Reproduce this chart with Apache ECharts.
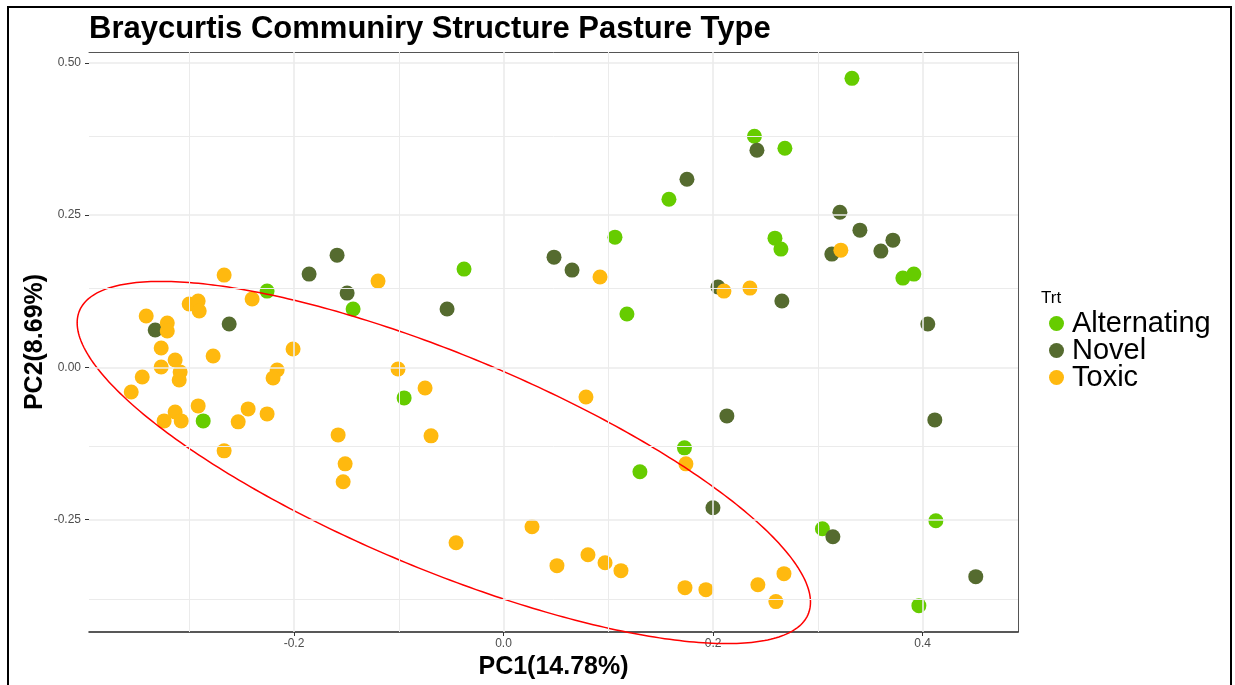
<!DOCTYPE html>
<html><head><meta charset="utf-8">
<script src="https://cdn.jsdelivr.net/npm/echarts@6/dist/echarts.min.js"></script>
<style>html,body{margin:0;padding:0;background:#fff}#chart{width:1235px;height:685px}</style>
</head><body><div id="chart"></div>
<script>
const seriesNames = ['Alternating', 'Novel', 'Toxic'];
const seriesColors = ['#66CC00', '#556B2F', '#FFB90F'];

const alternating = [
  [0.3326, 0.4746], [0.2395, 0.3795], [0.2686, 0.3598], [0.1579, 0.2762], [0.1064, 0.2139],
  [0.2591, 0.2123], [0.2648, 0.1943], [-0.0377, 0.1615], [-0.2257, 0.1254], [-0.1436, 0.0959],
  [0.1178, 0.0877], [0.3812, 0.1467], [0.3917, 0.1533], [-0.0949, -0.0500], [-0.2867, -0.0877],
  [0.1727, -0.1320], [0.1302, -0.1713], [0.3044, -0.2648], [0.4127, -0.2516], [0.3965, -0.3910]
];
const novel = [
  [0.2419, 0.3566], [0.1751, 0.3090], [0.3211, 0.2549], [0.3402, 0.2254], [0.3717, 0.2090],
  [0.3602, 0.1910], [0.3134, 0.1861], [-0.1589, 0.1844], [-0.1856, 0.1533], [-0.1493, 0.1221],
  [0.0482, 0.1811], [0.0654, 0.1598], [0.2047, 0.1320], [0.2657, 0.1090], [-0.0539, 0.0959],
  [-0.2619, 0.0713], [-0.3325, 0.0615], [0.4050, 0.0713], [0.2132, -0.0795], [0.4117, -0.0861],
  [0.1999, -0.2303], [0.3144, -0.2779], [0.4508, -0.3434]
];
const toxic = [
  [-0.2667, 0.1516], [-0.1198, 0.1418], [-0.2400, 0.1123], [-0.3001, 0.1041], [-0.2915, 0.1090],
  [-0.2905, 0.0926], [-0.3411, 0.0844], [-0.3210, 0.0730], [-0.3210, 0.0598], [-0.3268, 0.0320],
  [-0.2009, 0.0303], [-0.2772, 0.0189], [-0.3135, 0.0123], [-0.3268, 0.0008], [-0.3087, -0.0074],
  [-0.3096, -0.0205], [-0.3449, -0.0156], [-0.3554, -0.0402], [-0.2161, -0.0041], [-0.2200, -0.0172],
  [-0.1007, -0.0025], [-0.0749, -0.0336], [-0.2915, -0.0631], [-0.3135, -0.0730], [-0.3077, -0.0877],
  [-0.3240, -0.0877], [-0.2438, -0.0680], [-0.2533, -0.0893], [-0.2257, -0.0762], [-0.1579, -0.1107],
  [-0.0692, -0.1123], [-0.2667, -0.1369], [-0.1512, -0.1582], [-0.1531, -0.1877], [0.0787, -0.0484],
  [0.1741, -0.1582], [0.0921, 0.1484], [0.2104, 0.1254], [0.2352, 0.1303], [0.3220, 0.1926],
  [0.0272, -0.2615], [-0.0453, -0.2877], [0.0510, -0.3254], [0.0806, -0.3074], [0.0969, -0.3205],
  [0.1121, -0.3336], [0.1732, -0.3615], [0.1932, -0.3648], [0.2428, -0.3566], [0.2677, -0.3385],
  [0.2600, -0.3844]
];

const xTicks = [-0.2, 0.0, 0.2, 0.4];
const xMinorTicks = [-0.3, -0.1, 0.1, 0.3];
const yTicks = [-0.25, 0.0, 0.25, 0.5];
const yMinorTicks = [-0.375, -0.125, 0.125, 0.375];

// ellipse (stat_ellipse style) parameters in data units
const ellipseCenter = [-0.057, -0.156];
const ellipseSemiAxes = [0.433, 0.153];
const ellipseAngleDeg = -39.0;

const titleText = 'Braycurtis Communiry Structure Pasture Type';
const xTitle = 'PC1(14.78%)';
const yTitle = 'PC2(8.69%)';
const legendTitle = 'Trt';

// ---- build ----
const allPts = alternating.concat(novel, toxic);
function expandRange(vals) {
  const mn = Math.min.apply(null, vals), mx = Math.max.apply(null, vals);
  const pad = (mx - mn) * 0.05;
  return [mn - pad, mx + pad];
}
const xr = expandRange(allPts.map(p => p[0]));
const yr = expandRange(allPts.map(p => p[1]));

const ellipsePts = [];
const th = ellipseAngleDeg * Math.PI / 180;
for (let i = 0; i <= 360; i++) {
  const t = i * Math.PI / 180;
  const u = ellipseSemiAxes[0] * Math.cos(t), v = ellipseSemiAxes[1] * Math.sin(t);
  ellipsePts.push([
    ellipseCenter[0] + u * Math.cos(th) - v * Math.sin(th),
    ellipseCenter[1] + u * Math.sin(th) + v * Math.cos(th)
  ]);
}

const FONT = 'Liberation Sans, Arial, sans-serif';
const chart = echarts.init(document.getElementById('chart'), null, {renderer: 'canvas'});

const gridLine = (axis, v, w) => ({[axis]: v, lineStyle: {color: '#EBEBEB', width: w, type: 'solid'}});
const pointsData = [alternating, novel, toxic];

chart.setOption({
  animation: false,
  backgroundColor: '#fff',
  title: {
    text: titleText, left: 89, top: 14, padding: 0,
    textStyle: {fontFamily: FONT, fontWeight: 'bold', fontSize: 31, color: '#000'}
  },
  grid: {left: 89, right: 217, top: 52, bottom: 53, containLabel: false, outerBoundsMode: 'none'},
  legend: {
    data: seriesNames, orient: 'vertical', left: 1049, top: 309, itemGap: -2, padding: 0,
    icon: 'circle', itemWidth: 15, itemHeight: 15,
    textStyle: {fontFamily: FONT, fontSize: 29, color: '#000', lineHeight: 26, padding: [0, 0, 0, 3]}
  },
  graphic: [
    {type: 'text', left: 1041, top: 290, style: {text: legendTitle, font: '17px ' + FONT, fill: '#000'}},
    {type: 'rect', shape: {x: 8, y: 7, width: 1223, height: 700}, style: {fill: 'none', stroke: '#000', lineWidth: 2}, silent: true, z: 100}
  ],
  xAxis: [{
    type: 'value', min: xr[0], max: xr[1], position: 'bottom',
    name: xTitle, nameLocation: 'middle', nameGap: 23, nameMoveOverlap: false,
    nameTextStyle: {fontFamily: FONT, fontWeight: 'bold', fontSize: 25, color: '#000'},
    axisLine: {show: true, onZero: false, lineStyle: {color: '#222', width: 1.5}},
    axisTick: {show: true, customValues: xTicks, length: 4, lineStyle: {color: '#333'}},
    axisLabel: {customValues: xTicks, margin: 6, fontFamily: FONT, fontSize: 12, color: '#4D4D4D', formatter: v => v.toFixed(1)},
    splitLine: {show: false}
  }, {
    type: 'value', min: xr[0], max: xr[1], position: 'top',
    axisLine: {show: true, onZero: false, lineStyle: {color: '#555', width: 1}},
    axisTick: {show: false}, axisLabel: {show: false}, splitLine: {show: false}
  }],
  yAxis: [{
    type: 'value', min: yr[0], max: yr[1], position: 'left',
    name: yTitle, nameLocation: 'middle', nameGap: 41, nameRotate: 90, nameMoveOverlap: false,
    nameTextStyle: {fontFamily: FONT, fontWeight: 'bold', fontSize: 25, color: '#000'},
    axisLine: {show: false, onZero: false},
    axisTick: {show: true, customValues: yTicks, length: 4, lineStyle: {color: '#333'}},
    axisLabel: {customValues: yTicks, margin: 8, fontFamily: FONT, fontSize: 12, color: '#4D4D4D', formatter: v => v.toFixed(2)},
    splitLine: {show: false}
  }, {
    type: 'value', min: yr[0], max: yr[1], position: 'right',
    axisLine: {show: true, onZero: false, lineStyle: {color: '#555', width: 1}},
    axisTick: {show: false}, axisLabel: {show: false}, splitLine: {show: false}
  }],
  series: [
    {
      type: 'line', name: 'grid', data: [], silent: true, z: 1,
      markLine: {
        silent: true, symbol: ['none', 'none'], label: {show: false}, animation: false,
        lineStyle: {type: 'solid', color: '#EBEBEB', width: 1},
        emphasis: {disabled: true},
        data: xMinorTicks.map(v => gridLine('xAxis', v, 1))
          .concat(yMinorTicks.map(v => gridLine('yAxis', v, 1)))
          .concat(xTicks.map(v => gridLine('xAxis', v, 1.6)))
          .concat(yTicks.map(v => gridLine('yAxis', v, 1.6)))
      }
    }
  ].concat(seriesNames.map((n, i) => ({
    type: 'scatter', name: n, data: pointsData[i], symbol: 'circle', symbolSize: 15, z: 3,
    itemStyle: {color: seriesColors[i], opacity: 1}
  }))).concat([{
    type: 'custom', name: 'ellipse', data: [0], clip: false, silent: true, z: 4,
    renderItem: function (params, api) {
      return {
        type: 'polyline',
        shape: {points: ellipsePts.map(p => api.coord(p))},
        style: {stroke: '#FF0000', lineWidth: 1.5, fill: null}
      };
    }
  }])
});
</script>
</body></html>
